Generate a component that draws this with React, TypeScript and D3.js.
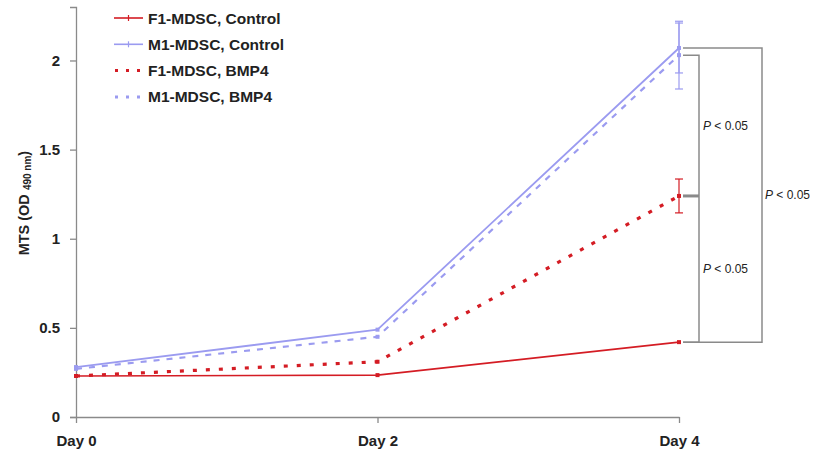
import React, { useEffect, useRef } from 'react';
import * as d3 from 'd3';

const days = ['Day 0', 'Day 2', 'Day 4'];
const yTicks = [0, 0.5, 1, 1.5, 2];

const f1Control = [0.23, 0.235, 0.42];
const m1Control = [0.28, 0.49, 2.07];
const f1Bmp4 = [0.23, 0.31, 1.24];
const m1Bmp4 = [0.27, 0.45, 2.03];

// error bars, only drawn at Day 4
const m1ControlErr = [0, 0, 0.14];
const m1Bmp4Err = [0, 0, 0.19];
const f1Bmp4Err = [0, 0, 0.095];

const pLabel = 'P < 0.05';

const RED = '#d41c24';
const BLUE = '#9b9bf0';

const series = [
  { name: 'F1-MDSC, Control', values: f1Control, err: null, color: RED, dash: null, width: 1.6 },
  { name: 'M1-MDSC, Control', values: m1Control, err: m1ControlErr, color: BLUE, dash: null, width: 1.8 },
  { name: 'F1-MDSC, BMP4', values: f1Bmp4, err: f1Bmp4Err, color: RED, dash: '4,9', width: 3.2 },
  { name: 'M1-MDSC, BMP4', values: m1Bmp4, err: m1Bmp4Err, color: BLUE, dash: '6,7', width: 2.2 },
];

const W = 815;
const H = 454;

function Chart() {
  const ref = useRef<SVGSVGElement | null>(null);

  useEffect(() => {
    const svg = d3.select(ref.current);
    svg.selectAll('*').remove();

    const x = d3.scalePoint<string>().domain(days).range([76, 679]);
    const y = d3.scaleLinear().domain([0, 2.3]).range([417, 7]);

    const font = 'Arial, "Liberation Sans", sans-serif';
    const axisColor = '#8a8a8a';

    // y axis
    const yAxis = svg.append('g').attr('transform', `translate(${x(days[0])},0)`)
      .call(d3.axisLeft(y).tickValues(yTicks).tickSize(6).tickPadding(10)
        .tickFormat(d => String(d)));
    yAxis.select('.domain').attr('stroke', axisColor).attr('stroke-width', 1.3);
    yAxis.selectAll('.tick line').attr('stroke', axisColor).attr('stroke-width', 1.3);
    yAxis.selectAll('.tick text')
      .attr('font-family', font).attr('font-size', 15).attr('font-weight', 'bold')
      .attr('fill', '#222');

    // x axis
    const xAxis = svg.append('g').attr('transform', `translate(0,${y(0)})`)
      .call(d3.axisBottom(x).tickSizeInner(6).tickSizeOuter(0).tickPadding(12));
    xAxis.select('.domain').attr('stroke', axisColor).attr('stroke-width', 1.3);
    xAxis.selectAll('.tick line').attr('stroke', axisColor).attr('stroke-width', 1.3);
    xAxis.selectAll('.tick text')
      .attr('font-family', font).attr('font-size', 15).attr('font-weight', 'bold')
      .attr('fill', '#222');

    // y label
    const yl = svg.append('text')
      .attr('transform', `translate(29,${y(1.2)}) rotate(-90)`)
      .attr('text-anchor', 'middle')
      .attr('font-family', font).attr('font-size', 14.5).attr('font-weight', 'bold')
      .attr('fill', '#222');
    yl.append('tspan').text('MTS (OD ');
    yl.append('tspan').attr('font-size', 10).attr('dy', 2).text('490 nm');
    yl.append('tspan').attr('dy', -2).text(')');

    const line = d3.line<number>().x((d, i) => x(days[i]) as number).y(d => y(d));

    // error bars
    series.forEach(s => {
      if (!s.err) return;
      s.err.forEach((e, i) => {
        if (!e) return;
        const cx = x(days[i]) as number;
        const g = svg.append('g').attr('stroke', s.color).attr('stroke-width', 1.2);
        g.append('line').attr('x1', cx).attr('x2', cx)
          .attr('y1', y(s.values[i] + e)).attr('y2', y(s.values[i] - e));
        [s.values[i] + e, s.values[i] - e].forEach(v => {
          g.append('line').attr('x1', cx - 4).attr('x2', cx + 4)
            .attr('y1', y(v)).attr('y2', y(v));
        });
      });
    });

    // lines
    series.forEach(s => {
      svg.append('path')
        .attr('d', line(s.values))
        .attr('fill', 'none')
        .attr('stroke', s.color)
        .attr('stroke-width', s.width)
        .attr('stroke-dasharray', s.dash)
        .attr('stroke-linejoin', 'round');
      svg.selectAll(null).data(s.values).enter().append('rect')
        .attr('x', (d, i) => (x(days[i]) as number) - 2)
        .attr('y', d => y(d) - 2)
        .attr('width', 4).attr('height', 4)
        .attr('fill', s.color);
    });

    // legend
    const leg = svg.append('g');
    series.forEach((s, i) => {
      const ly = 18 + i * 26.3;
      leg.append('line').attr('x1', 114).attr('x2', 143).attr('y1', ly).attr('y2', ly)
        .attr('stroke', s.color).attr('stroke-width', s.dash ? 3 : 1.6)
        .attr('stroke-dasharray', s.dash ? '3,8' : null)
        .attr('stroke-dashoffset', s.dash ? -1 : 0);
      if (!s.dash) {
        leg.append('line').attr('x1', 128.5).attr('x2', 128.5).attr('y1', ly - 3).attr('y2', ly + 3)
          .attr('stroke', s.color).attr('stroke-width', 1.2);
      }
      leg.append('text').attr('x', 148).attr('y', ly + 5.5)
        .attr('font-family', font).attr('font-size', 15.5).attr('font-weight', 'bold')
        .attr('fill', '#222').text(s.name);
    });

    // significance brackets
    const x4 = x(days[2]) as number;
    const yTopOuter = y(m1Control[2]);
    const yTopInner = y(m1Bmp4[2]);
    const yMid = y(f1Bmp4[2]);
    const yBot = y(f1Control[2]);
    const br = svg.append('g').attr('fill', 'none').attr('stroke', '#8a8a8a').attr('stroke-width', 1.5);
    br.append('path').attr('d', `M${x4 + 4},${yTopOuter}H${x4 + 83}V${yBot}H${x4 + 4}`);
    br.append('path').attr('d', `M${x4 + 4},${yTopInner}H${x4 + 20}V${yBot}H${x4 + 4}`);
    br.append('line').attr('x1', x4 + 4).attr('x2', x4 + 20).attr('y1', yMid).attr('y2', yMid)
      .attr('stroke-width', 3);

    const pText = (px: number, py: number) => {
      const t = svg.append('text').attr('x', px).attr('y', py)
        .attr('font-family', font).attr('font-size', 12).attr('fill', '#222');
      t.append('tspan').attr('font-style', 'italic').text(pLabel.slice(0, 1));
      t.append('tspan').text(pLabel.slice(1));
    };
    pText(x4 + 24, (yTopInner + yMid) / 2 + 4);
    pText(x4 + 24, (yMid + yBot) / 2 + 4);
    pText(x4 + 86, (yTopOuter + yBot) / 2 + 4);
  }, []);

  return <svg ref={ref} width={W} height={H} style={{ position: 'absolute', left: 0, top: 0, background: '#fff' }} />;
}

export default function App() {
  return <Chart />;
}
